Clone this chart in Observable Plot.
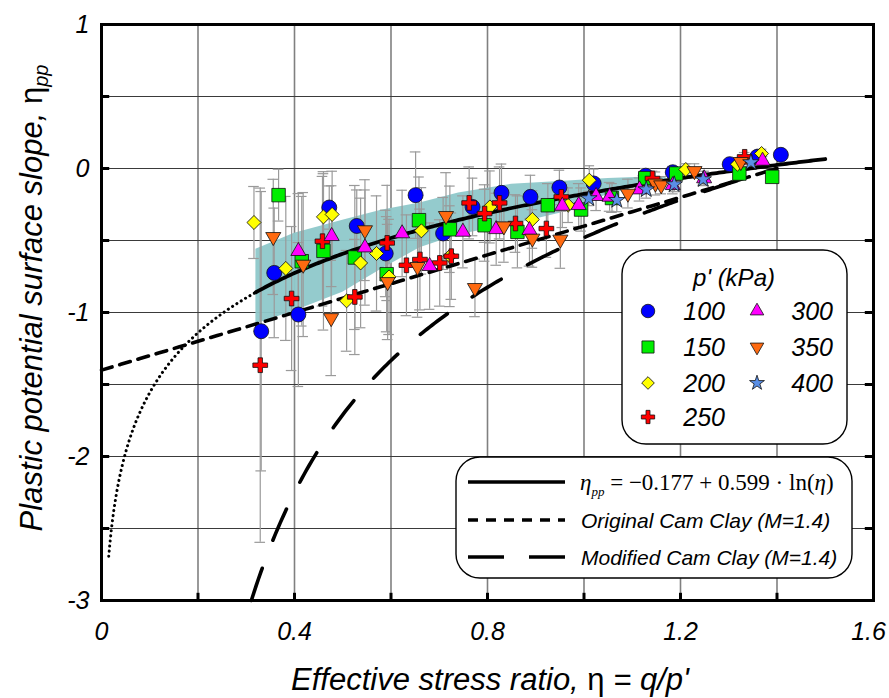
<!DOCTYPE html>
<html><head><meta charset="utf-8">
<script src="https://cdn.jsdelivr.net/npm/d3@7"></script>
<script src="https://cdn.jsdelivr.net/npm/@observablehq/plot@0.6"></script>
<style>
body{margin:0;background:#fff;}
#chart{width:889px;height:698px;}
</style></head><body><div id="chart"></div>
<script>
// ---- tick labels & grid ----
const xTickLabels = [0, 0.4, 0.8, 1.2];
const xLastTickLabel = [1.6];
const yTickLabels = [-3, -2, -1, 0, 1];
const xGrid = [0.2, 0.4, 0.6, 0.8, 1.0, 1.2, 1.4];
const yGrid = [-2.5, -2, -1.5, -1, -0.5, 0, 0.5];
const xMinorTicks = [0.2, 0.4, 0.6, 0.8, 1.0, 1.2, 1.4];
const yMinorTicks = [-2.5, -2, -1.5, -1, -0.5, 0, 0.5];

// ---- measured data: [eta, eta_pp, error] ----
const s100 = [[0.331,-1.13,0.97],[0.358,-0.725,0.45],[0.408,-1.014,0.5],[0.472,-0.271,0.15],[0.529,-0.399,0.25],[0.589,-0.59,0.3],[0.651,-0.185,0.3],[0.708,-0.451,0.25],[0.769,-0.267,0.2],[0.829,-0.169,0.2],[0.889,-0.197,0.15],[0.949,-0.132,0.12],[1.020,-0.104,0.1],[1.128,-0.05,0.05],[1.184,-0.026,0.04],[1.302,0.030,0.03],[1.359,0.081,0.03],[1.408,0.095,0.03]];
const s150 = [[0.367,-0.185,0.18],[0.415,-0.644,0.45],[0.460,-0.572,0.55],[0.525,-0.618,0.5],[0.591,-0.734,0.4],[0.658,-0.359,0.3],[0.722,-0.422,0.3],[0.794,-0.394,0.25],[0.862,-0.440,0.25],[0.925,-0.255,0.15],[0.994,-0.285,0.15],[1.058,-0.205,0.1],[1.127,-0.067,0.05],[1.191,-0.035,0.04],[1.322,-0.035,0.04],[1.390,-0.058,0.04]];
const s200 = [[0.316,-0.375,0.25],[0.382,-0.694,0.5],[0.460,-0.336,0.3],[0.478,-0.319,0.3],[0.537,-0.656,0.45],[0.508,-0.919,0.35],[0.570,-0.590,0.4],[0.596,-0.753,0.4],[0.663,-0.433,0.3],[0.722,-0.609,0.35],[0.805,-0.267,0.25],[0.893,-0.354,0.2],[0.967,-0.255,0.12],[1.011,-0.081,0.1],[1.211,-0.007,0.04],[1.318,0.030,0.03],[1.368,0.104,0.03]];
const s250 = [[0.329,-1.366,1.23],[0.394,-0.903,0.5],[0.458,-0.505,0.45],[0.525,-0.892,0.4],[0.592,-0.517,0.4],[0.632,-0.672,0.35],[0.660,-0.632,0.35],[0.701,-0.656,0.3],[0.725,-0.609,0.3],[0.762,-0.239,0.25],[0.794,-0.313,0.2],[0.825,-0.239,0.25],[0.858,-0.382,0.2],[0.922,-0.417,0.2],[0.953,-0.197,0.1],[1.142,-0.069,0.05],[1.333,0.081,0.03]];
const s300 = [[0.408,-0.574,0.4],[0.477,-0.470,0.35],[0.546,-0.549,0.4],[0.623,-0.451,0.3],[0.680,-0.678,0.3],[0.749,-0.440,0.25],[0.818,-0.422,0.25],[0.887,-0.428,0.25],[0.955,-0.260,0.15],[0.989,-0.255,0.15],[1.025,-0.192,0.1],[1.053,-0.197,0.1],[1.115,-0.146,0.08],[1.184,-0.116,0.06],[1.249,-0.069,0.05],[1.370,0.053,0.03]];
const s350 = [[0.356,-0.475,0.4],[0.418,-0.667,0.5],[0.476,-1.038,0.4],[0.546,-0.428,0.35],[0.593,-0.788,0.4],[0.655,-0.683,0.35],[0.714,-0.329,0.3],[0.774,-0.829,0.2],[0.834,-0.401,0.25],[0.893,-0.486,0.2],[0.951,-0.493,0.2],[1.091,-0.174,0.1],[1.148,-0.104,0.08],[1.160,-0.116,0.06],[1.229,-0.017,0.05],[1.325,0.046,0.03]];
const s400 = [[1.010,-0.208,0.05],[1.068,-0.220,0.08],[1.129,-0.146,0.06],[1.187,-0.111,0.05],[1.247,-0.076,0.04],[1.346,0.042,0.03]];

// ---- shaded band ----
const bandX  = [0.32, 0.40, 0.50, 0.58, 0.66, 0.74, 0.85, 0.95, 1.05, 1.12, 1.17];
const bandHi = [-0.56, -0.45, -0.36, -0.29, -0.24, -0.17, -0.11, -0.09, -0.07, -0.06, -0.06];
const bandLo = [-1.08, -0.99, -0.86, -0.70, -0.55, -0.46, -0.39, -0.31, -0.18, -0.12, -0.09];

// ---- model curves (as stated on the chart) ----
const fitA = -0.177, fitB = 0.599, M = 1.4;

const seriesNames = ["100","150","200","250","300","350","400"];
const seriesData = [s100, s150, s200, s250, s300, s350, s400];

// thin plus symbol like the reference
const plusSymbol = {
  draw(context, size) {
    const w = Math.sqrt(size) * 0.85;
    const t = w * 0.3;
    context.moveTo(-w, -t); context.lineTo(-t, -t); context.lineTo(-t, -w); context.lineTo(t, -w);
    context.lineTo(t, -t); context.lineTo(w, -t); context.lineTo(w, t); context.lineTo(t, t);
    context.lineTo(t, w); context.lineTo(-t, w); context.lineTo(-t, t); context.lineTo(-w, t);
    context.closePath();
  }
};
const seriesStyle = [
  {symbol:"circle", fill:"#0000ff", r:7.5, rotate:0},
  {symbol:"square", fill:"#00ee00", r:7.6, rotate:0},
  {symbol:"square", fill:"#ffff00", r:5.6, rotate:45},
  {symbol:plusSymbol, fill:"#ff0000", r:4.9, rotate:0},
  {symbol:"triangle", fill:"#ff00ff", r:5.6, rotate:0},
  {symbol:"triangle", fill:"#ff6a10", r:5.6, rotate:180},
  {symbol:"star", fill:"#5a8fe6", r:5.2, rotate:0}
];

const band = bandX.map((x,i)=>({x, lo: bandLo[i], hi: bandHi[i]}));
const step = 0.005;
const fitSolid = d3.range(0.32, 1.5001, step).map(x=>({x, y: fitA + fitB*Math.log(x)}));
const fitDotted = d3.range(0.015, 0.3201, step/2).map(x=>({x, y: fitA + fitB*Math.log(x)}));
const occ = d3.range(0, M+0.0001, 0.02).map(x=>({x, y: x - M}));
const x0 = (-6 + Math.sqrt(36 + 4*M*M))/2;
const mcc = d3.range(x0, M+0.0001, 0.005).map(x=>({x, y: (x*x - M*M)/(2*x)}));

const font = "'Liberation Sans', Arial, sans-serif";
const capHalf = 0.011;

const errMarks = seriesData.flatMap(data => [
  Plot.ruleX(data, {x: d=>d[0], y1: d=>d[1]-d[2], y2: d=>d[1]+d[2], stroke:"#9a9a9a", strokeWidth:1.2}),
  Plot.ruleY(data, {y: d=>d[1]-d[2], x1: d=>d[0]-capHalf, x2: d=>d[0]+capHalf, stroke:"#9a9a9a", strokeWidth:1.2}),
  Plot.ruleY(data, {y: d=>d[1]+d[2], x1: d=>d[0]-capHalf, x2: d=>d[0]+capHalf, stroke:"#9a9a9a", strokeWidth:1.2})
]);
const dotMarks = seriesData.map((data,i) => {
  const s = seriesStyle[i];
  return Plot.dot(data, {x: d=>d[0], y: d=>d[1], symbol: s.symbol, r: s.r, rotate: s.rotate, fill: s.fill, stroke:"#111", strokeWidth:0.8});
});

const plot = Plot.plot({
  width: 889, height: 698,
  marginLeft: 101, marginRight: 16, marginTop: 24, marginBottom: 98,
  x: {domain:[0,1.6]},
  y: {domain:[-3,1]},
  style: {fontFamily: font, fontSize: "25px", fontStyle: "italic", background: "white", color:"black"},
  marks: [
    Plot.ruleX(xGrid, {stroke:"#808080", strokeWidth:1.6}),
    Plot.ruleY(yGrid, {stroke:"#3a3a3a", strokeWidth:1}),
    Plot.areaY(band, {x:"x", y1:"lo", y2:"hi", fill:"#8ec8ca", fillOpacity:0.95}),
    ...errMarks,
    Plot.line(fitDotted, {x:"x", y:"y", stroke:"black", strokeWidth:3, strokeDasharray:"0.1 5", strokeLinecap:"round"}),
    Plot.line(occ, {x:"x", y:"y", stroke:"black", strokeWidth:3.6, strokeDasharray:"11 8"}),
    Plot.line(mcc, {x:"x", y:"y", stroke:"black", strokeWidth:3.6, strokeDasharray:"34 30", strokeLinecap:"round"}),
    Plot.line(fitSolid, {x:"x", y:"y", stroke:"black", strokeWidth:3.8}),
    ...dotMarks,
    Plot.ruleY(yMinorTicks, {x1:0, x2:0.017, stroke:"black", strokeWidth:3}),
    Plot.ruleY(yMinorTicks, {x1:1.583, x2:1.6, stroke:"black", strokeWidth:3}),
    Plot.ruleX(xMinorTicks, {y1:-3, y2:-2.95, stroke:"black", strokeWidth:3}),
    Plot.frame({stroke:"black", strokeWidth:3}),
    Plot.axisX(xTickLabels, {tickSize:0, tickPadding:22, tickFormat: d=>String(d), label:null}),
    Plot.axisX(xLastTickLabel, {tickSize:0, tickPadding:22, tickFormat: d=>String(d), label:null, dx:-5}),
    Plot.axisY(yTickLabels, {tickSize:0, tickPadding:12, tickFormat: d=>String(d), label:null})
  ]
});
document.getElementById("chart").appendChild(plot);

// ---- overlay: axis titles and legends ----
const svg = d3.select(plot);
// y title
const yt = svg.append("text").attr("transform","translate(42,298) rotate(-90)")
  .attr("text-anchor","middle").attr("font-family",font).attr("font-size",31).attr("font-style","italic").attr("fill","black");
yt.append("tspan").text("Plastic potential surface slope, ");
yt.append("tspan").attr("font-style","normal").text("η");
yt.append("tspan").attr("font-size",20).attr("dy",6).text("pp");
// x title
const xt = svg.append("text").attr("x",490).attr("y",690)
  .attr("text-anchor","middle").attr("font-family",font).attr("font-size",31).attr("font-style","italic").attr("fill","black");
xt.append("tspan").text("Effective stress ratio, ");
xt.append("tspan").attr("font-style","normal").text("η");
xt.append("tspan").text(" = q/p'");

// legend 1: markers
const lg = svg.append("g").attr("font-family",font).attr("font-style","italic").attr("text-anchor","start");
lg.append("rect").attr("x",622).attr("y",250).attr("width",225).attr("height",194).attr("rx",24)
  .attr("fill","white").attr("stroke","black").attr("stroke-width",1.4);
lg.append("text").attr("x",734).attr("y",286).attr("text-anchor","middle").attr("font-size",24).text("p' (kPa)");
const symMap = {circle: d3.symbolCircle, square: d3.symbolSquare, triangle: d3.symbolTriangle, star: d3.symbolStar};
const legPos = [[648,311,725],[648,347,725],[648,383,725],[648,417,725],[757,311,833],[757,347,833],[757,383,833]];
seriesNames.forEach((name,i)=>{
  const s = seriesStyle[i];
  const [sx,sy,tx] = legPos[i];
  const rr = s.r*0.9;
  const sym = typeof s.symbol === "string" ? symMap[s.symbol] : s.symbol;
  lg.append("path").attr("d", d3.symbol(sym, Math.PI*rr*rr)())
    .attr("transform",`translate(${sx},${sy}) rotate(${s.rotate})`)
    .attr("fill", s.fill).attr("stroke","#111").attr("stroke-width",0.8);
  lg.append("text").attr("x",tx).attr("y",sy+9).attr("text-anchor","end").attr("font-size",25).text(name);
});

// legend 2: lines
const lg2 = svg.append("g").attr("text-anchor","start");
lg2.append("rect").attr("x",456).attr("y",457).attr("width",396).attr("height",121).attr("rx",24)
  .attr("fill","white").attr("stroke","black").attr("stroke-width",1.4);
lg2.append("line").attr("x1",468).attr("x2",565).attr("y1",482).attr("y2",482).attr("stroke","black").attr("stroke-width",3.5);
lg2.append("line").attr("x1",468).attr("x2",565).attr("y1",520).attr("y2",520).attr("stroke","black").attr("stroke-width",3.5).attr("stroke-dasharray","10 8");
lg2.append("line").attr("x1",468).attr("x2",565).attr("y1",557).attr("y2",557).attr("stroke","black").attr("stroke-width",3.5).attr("stroke-dasharray","36 25");
const mt = lg2.append("text").attr("x",580).attr("y",490).attr("text-anchor","start").attr("font-family","'Liberation Serif', 'Times New Roman', serif").attr("font-style","normal").attr("font-size",23).attr("fill","black");
mt.append("tspan").attr("font-style","italic").text("η");
mt.append("tspan").attr("font-style","italic").attr("font-size",13).attr("dy",6).text("pp");
mt.append("tspan").attr("dy",-6).text(" = −0.177 + 0.599 · ln(");
mt.append("tspan").attr("font-style","italic").text("η");
mt.append("tspan").text(")");
lg2.append("text").attr("x",581).attr("y",528).attr("text-anchor","start").attr("font-family",font).attr("font-style","italic").attr("font-size",21).text("Original Cam Clay (M=1.4)");
lg2.append("text").attr("x",581).attr("y",565).attr("text-anchor","start").attr("font-family",font).attr("font-style","italic").attr("font-size",21).text("Modified Cam Clay (M=1.4)");
</script>
</body></html>
